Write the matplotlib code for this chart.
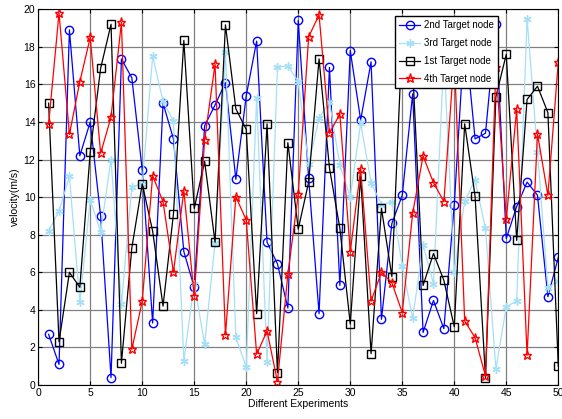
import matplotlib
matplotlib.use("Agg")
import matplotlib.pyplot as plt
import numpy as np

# experiments 1..50
experiments = np.arange(1, 51)

# 2nd target node (blue, circles)
node2 = [2.7, 1.1, 18.9, 12.2, 14.0, 9.0, 0.4, 17.35, 16.35, 11.45,
         3.3, 15.0, 13.1, 7.1, 5.2, 13.8, 14.9, 16.1, 10.95, 15.4,
         18.3, 7.6, 6.45, 4.1, 19.4, 11.0, 3.8, 16.9, 5.3, 17.8,
         14.1, 17.2, 3.5, 8.6, 10.1, 15.5, 2.8, 4.5, 3.0, 9.6,
         18.8, 13.1, 13.4, 19.2, 7.8, 9.5, 10.8, 10.1, 4.7, 6.8]

# 3rd target node (light blue, asterisks)
node3 = [8.2, 9.26, 11.1, 4.4, 9.85, 8.16, 12.0, 4.3, 10.55, 10.7,
         17.5, 15.1, 14.05, 1.3, 5.4, 2.17, 7.57, 17.7, 2.54, 0.95,
         15.3, 1.25, 16.9, 17.0, 16.15, 11.75, 14.2, 15.07, 11.7, 10.0,
         13.93, 10.77, 9.6, 9.76, 6.35, 3.55, 7.45, 5.4, 17.5, 6.0,
         9.8, 10.9, 8.34, 0.86, 4.17, 4.47, 19.5, 12.4, 5.18, 5.54]

# 1st target node (black, squares)
node1 = [15.0, 2.3, 6.0, 5.2, 12.4, 16.85, 19.2, 1.16, 7.3, 10.7,
         8.2, 4.2, 9.1, 18.34, 9.4, 11.9, 7.6, 19.17, 14.7, 13.6,
         3.8, 13.9, 0.66, 12.9, 8.3, 10.8, 17.36, 11.55, 8.34, 3.25,
         11.1, 1.67, 9.4, 5.77, 18.6, 16.8, 5.3, 7.0, 5.57, 3.1,
         13.9, 10.05, 0.4, 15.34, 17.6, 7.7, 15.2, 15.9, 14.5, 1.0]

# 4th target node (red, stars)
node4 = [13.87, 19.8, 13.34, 16.14, 18.5, 12.33, 14.26, 19.3, 1.9, 4.46,
         11.14, 9.76, 6.0, 10.34, 4.72, 13.05, 17.08, 2.66, 10.02, 8.78,
         1.64, 2.88, 0.18, 5.9, 10.15, 18.53, 19.7, 13.4, 14.42, 7.1,
         11.5, 4.47, 6.0, 5.45, 3.85, 9.14, 12.19, 10.77, 9.76, 17.5,
         3.41, 2.52, 0.48, 16.9, 8.82, 14.67, 1.58, 13.36, 10.1, 17.17]

plt.rcParams["font.family"] = ["Liberation Sans", "DejaVu Sans"]
plt.rcParams["font.size"] = 7

fig = plt.figure(figsize=(5.62, 4.19), dpi=100)
ax = fig.add_axes([0.068, 0.081, 0.9254, 0.897])

lw = 0.9
ax.plot(experiments, node2, color="blue", marker="o", markersize=6,
        markerfacecolor="none", linewidth=lw, label="2nd Target node")
ax.plot(experiments, node3, color="#a5e0f7", marker=(6, 2, 0), markersize=6,
        linewidth=lw, label="3rd Target node")
ax.plot(experiments, node1, color="black", marker="s", markersize=6,
        markerfacecolor="none", linewidth=lw, label="1st Target node")
ax.plot(experiments, node4, color="red", marker="*", markersize=6.5,
        markerfacecolor="none", linewidth=lw, label="4th Target node")

ax.set_xlim(0, 50)
ax.set_ylim(0, 20)
ax.set_xticks(np.arange(0, 51, 5))
ax.set_yticks(np.arange(0, 21, 2))
ax.grid(True, color="#808080", linewidth=0.9)
ax.tick_params(direction="in", top=True, right=True, length=3, pad=2,
               labelsize=7.5)
for s in ax.spines.values():
    s.set_linewidth(0.8)

ax.set_xlabel("Different Experiments", labelpad=1, fontsize=7.5)
ax.set_ylabel("velocity(m/s)", labelpad=3, fontsize=7.5)

leg = ax.legend(loc="upper right", bbox_to_anchor=(0.884, 0.982), fancybox=False,
                framealpha=1, edgecolor="black", borderpad=0.45, labelspacing=0.8,
                handlelength=2.2, handletextpad=0.35, borderaxespad=0,
                fontsize=7)
leg.get_frame().set_linewidth(1.0)

fig.savefig("out.png", dpi=100)
